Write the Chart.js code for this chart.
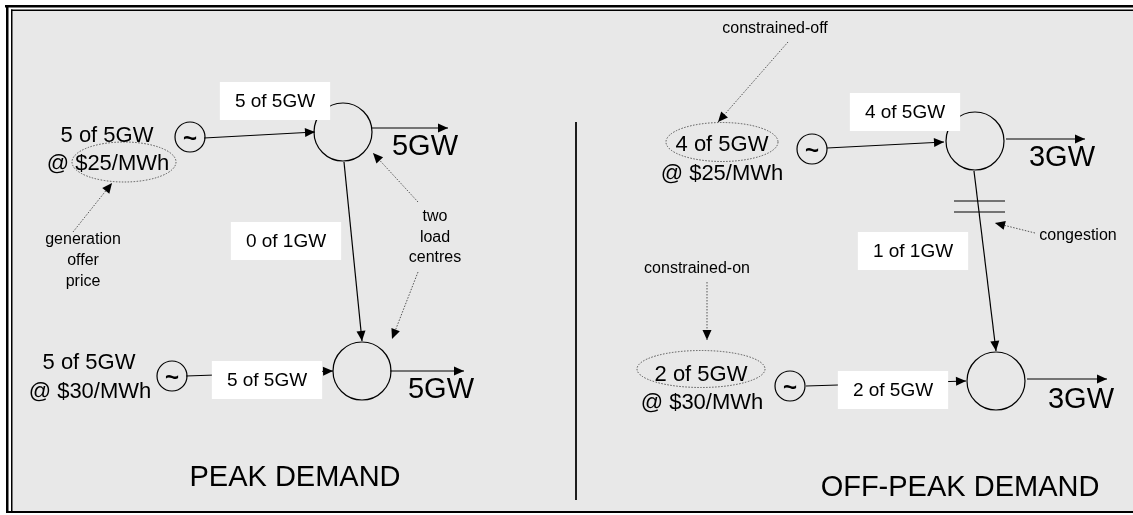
<!DOCTYPE html>
<html>
<head>
<meta charset="utf-8">
<script src="https://cdn.jsdelivr.net/npm/chart.js@4/dist/chart.umd.min.js"></script>
<style>
  html, body { margin: 0; padding: 0; background: #fff; }
  #wrap { width: 1133px; height: 515px; }
</style>
</head>
<body>
<div id="wrap"><canvas id="diagram" width="1133" height="515"></canvas></div>
<script>
// buses (load centres)
const busX = [343, 362, 975, 996];
const busY = [132, 371, 141, 381];
// generators
const genX = [190, 172, 812, 790];
const genY = [137, 376, 149, 386];

// generator -> bus and bus -> bus lines (arrow at the end)
const lineFrom = [[204, 138], [186, 376], [344, 162], [827, 148], [806, 386], [974, 171]];
const lineTo   = [[315, 132], [333, 371], [362, 341], [944, 142], [966, 381], [996, 351]];
// demand leaving each bus
const loadFrom = [[372, 128], [390, 371], [1006, 139], [1027, 379]];
const loadTo   = [[448, 128], [464, 371], [1085, 139], [1107, 379]];
// dotted pointers from the notes
const noteFrom = [[73, 232], [418, 202], [418, 272], [788, 42], [707, 282], [1035, 233]];
const noteTo   = [[112, 183], [373, 153], [392, 339], [718, 122], [707, 340], [995, 223]];
// congestion marks and panel divider
const markFrom = [[954, 201], [954, 212], [576, 122]];
const markTo   = [[1005, 201], [1005, 212], [576, 500]];

// dotted rings round the offers
const ringX = [124, 722, 701];
const ringY = [162, 142, 369];
const ringW = [52, 56, 64];
const ringH = [20, 19.5, 18.5];

// flow labels on the lines
const flowText = ['5 of 5GW', '0 of 1GW', '5 of 5GW', '4 of 5GW', '1 of 1GW', '2 of 5GW'];
const flowX = [275, 286, 267, 905, 913, 893];
const flowY = [101, 241, 380, 112, 251, 390];

// offers
const offerText = ['5 of 5GW', '@ $25/MWh', '5 of 5GW', '@ $30/MWh',
                   '4 of 5GW', '@ $25/MWh', '2 of 5GW', '@ $30/MWh'];
const offerX = [107, 108, 89, 90, 722, 722, 701, 702];
const offerY = [136, 164, 363, 392, 145, 174, 375, 403];

// demand and titles
const bigText = ['5GW', '5GW', '3GW', '3GW', 'PEAK DEMAND', 'OFF-PEAK DEMAND'];
const bigX = [425, 441, 1062, 1081, 295, 960];
const bigY = [147, 390, 158, 400, 478, 488];

// notes
const noteText = ['generation', 'offer', 'price', 'two', 'load', 'centres',
                  'constrained-off', 'constrained-on', 'congestion'];
const noteX = [83, 83, 83, 435, 435, 435, 775, 697, 1078];
const noteY = [240, 261, 282, 217, 238, 258, 29, 269, 236];

const FONT = '"Liberation Sans", Arial, sans-serif';

function seg(from, to, style) {
  return Object.assign({
    data: [{x: from[0], y: from[1]}, {x: to[0], y: to[1]}],
    showLine: true,
    pointRadius: 0,
    borderColor: '#000',
    borderWidth: 1.2,
    fill: false
  }, style);
}

const datasets = [];
lineFrom.forEach((f, i) => datasets.push(seg(f, lineTo[i], {})));
loadFrom.forEach((f, i) => datasets.push(seg(f, loadTo[i], {})));
markFrom.forEach((f, i) => datasets.push(seg(f, markTo[i], {borderWidth: 1})));
noteFrom.forEach((f, i) => datasets.push(seg(f, noteTo[i], {borderColor: '#555', borderWidth: 1, borderDash: [1.5, 1.5]})));
datasets.push({
  data: busX.map((x, i) => ({x: x, y: busY[i]})),
  pointRadius: 29, pointHoverRadius: 29,
  pointBackgroundColor: 'rgba(0,0,0,0)', pointBorderColor: '#000', pointBorderWidth: 1.2
});
datasets.push({
  data: genX.map((x, i) => ({x: x, y: genY[i]})),
  pointRadius: 15, pointHoverRadius: 15,
  pointBackgroundColor: 'rgba(0,0,0,0)', pointBorderColor: '#000', pointBorderWidth: 1.2
});

const diagramPlugin = {
  id: 'diagram',
  beforeDraw(chart) {
    const ctx = chart.ctx;
    const W = chart.width, H = chart.height;
    ctx.save();
    ctx.fillStyle = '#fff';
    ctx.fillRect(0, 0, W, H);
    ctx.fillStyle = '#e8e8e8';
    ctx.fillRect(12, 11, W - 12, 500);
    ctx.fillStyle = '#000';
    ctx.fillRect(5, 5, W - 5, 2.5);
    ctx.fillRect(6, 5, 2.5, 508);
    ctx.fillRect(11, 9.5, W - 11, 1.5);
    ctx.fillRect(11, 9.5, 1.5, 503);
    ctx.fillRect(6, 511, W - 6, 2);
    ctx.restore();
  },
  afterDatasetsDraw(chart) {
    const ctx = chart.ctx;
    const sx = chart.scales.x, sy = chart.scales.y;
    const px = v => sx.getPixelForValue(v);
    const py = v => sy.getPixelForValue(v);

    function head(from, to, len, half, color) {
      const x1 = px(from[0]), y1 = py(from[1]);
      const x2 = px(to[0]), y2 = py(to[1]);
      const a = Math.atan2(y2 - y1, x2 - x1);
      ctx.fillStyle = color;
      ctx.beginPath();
      ctx.moveTo(x2, y2);
      ctx.lineTo(x2 - len * Math.cos(a) + half * Math.sin(a), y2 - len * Math.sin(a) - half * Math.cos(a));
      ctx.lineTo(x2 - len * Math.cos(a) - half * Math.sin(a), y2 - len * Math.sin(a) + half * Math.cos(a));
      ctx.closePath();
      ctx.fill();
    }

    ctx.save();
    lineFrom.forEach((f, i) => head(f, lineTo[i], 10, 4.5, '#000'));
    loadFrom.forEach((f, i) => head(f, loadTo[i], 10, 4.5, '#000'));
    noteFrom.forEach((f, i) => head(f, noteTo[i], 10, 4.5, '#000'));

    // dotted rings
    ctx.strokeStyle = '#555';
    ctx.lineWidth = 1;
    ctx.setLineDash([1.5, 1.5]);
    ringX.forEach((x, i) => {
      const cx = px(x), cy = py(ringY[i]);
      const rx = px(x + ringW[i]) - cx, ry = Math.abs(py(ringY[i] + ringH[i]) - cy);
      ctx.beginPath();
      ctx.ellipse(cx, cy, rx, ry, 0, 0, Math.PI * 2);
      ctx.stroke();
    });
    ctx.setLineDash([]);

    // generator symbol
    ctx.fillStyle = '#000';
    ctx.textAlign = 'center';
    ctx.textBaseline = 'middle';
    ctx.font = 'bold 24px ' + FONT;
    genX.forEach((x, i) => ctx.fillText('~', px(x), py(genY[i]) + 2));

    // flow label boxes
    ctx.font = '19px ' + FONT;
    flowText.forEach((t, i) => {
      const w = ctx.measureText(t).width + 30;
      const cx = px(flowX[i]), cy = py(flowY[i]);
      ctx.fillStyle = '#fff';
      ctx.fillRect(cx - w / 2, cy - 19, w, 38);
      ctx.fillStyle = '#000';
      ctx.fillText(t, cx, cy + 1);
    });

    ctx.font = '22px ' + FONT;
    offerText.forEach((t, i) => ctx.fillText(t, px(offerX[i]), py(offerY[i])));

    ctx.font = '29px ' + FONT;
    bigText.forEach((t, i) => ctx.fillText(t, px(bigX[i]), py(bigY[i])));

    ctx.font = '16px ' + FONT;
    noteText.forEach((t, i) => ctx.fillText(t, px(noteX[i]), py(noteY[i])));
    ctx.restore();
  }
};

new Chart(document.getElementById('diagram').getContext('2d'), {
  type: 'scatter',
  data: { datasets: datasets },
  options: {
    responsive: false,
    animation: false,
    events: [],
    layout: { padding: 0, autoPadding: false },
    plugins: { legend: { display: false }, tooltip: { enabled: false } },
    scales: {
      x: { type: 'linear', min: 0, max: 1133, display: false },
      y: { type: 'linear', min: 0, max: 515, reverse: true, display: false }
    }
  },
  plugins: [diagramPlugin]
});
</script>
</body>
</html>
